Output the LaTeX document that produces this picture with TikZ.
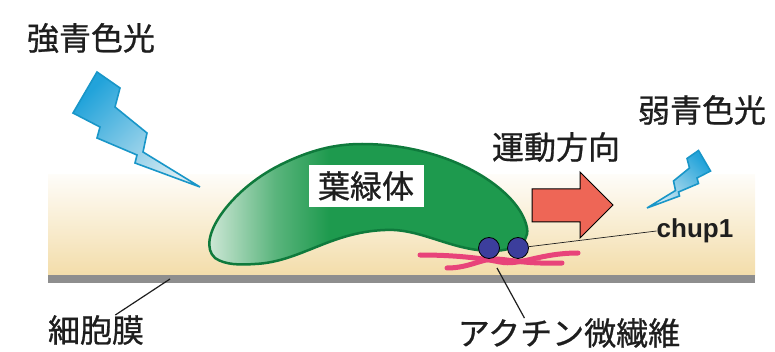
\documentclass[tikz,border=0pt]{standalone}
\usepackage{fontspec}
\newfontfamily\jpfont{Noto Sans CJK JP}[FakeBold=0.8]
\setsansfont{Liberation Sans}
\usetikzlibrary{positioning, calc}

\definecolor{ink}{HTML}{1E1E1E}
\definecolor{chlgreen}{HTML}{1E9A4E}
\definecolor{chledge}{HTML}{0F7A3C}
\definecolor{chllight}{HTML}{E6F2E9}
\definecolor{cyto}{HTML}{F3DDAA}
\definecolor{membrane}{HTML}{8E8E8E}
\definecolor{boltblue}{HTML}{22A3DA}
\definecolor{boltedge}{HTML}{1996C8}
\definecolor{boltlight}{HTML}{D6EAF2}
\definecolor{motion}{HTML}{EE6656}
\definecolor{actin}{HTML}{E8437A}
\definecolor{chupblue}{HTML}{3C3E9C}

% chloroplast: pale at the left end, full green from about a third on
\pgfdeclarehorizontalshading{chloro}{100bp}{color(0bp)=(chllight); color(25bp)=(chllight); color(37bp)=(chlgreen!70!chllight); color(45bp)=(chlgreen); color(100bp)=(chlgreen)}

\begin{document}
\begin{tikzpicture}[
    x=1pt, y=-1pt,
    lbl/.style={font=\jpfont\fontsize{32}{36}\selectfont, text=ink, inner sep=0pt},
    leader/.style={draw=ink, line width=1.2pt},
    motor/.style={circle, draw=black, fill=chupblue, line width=0.8pt, minimum size=21pt, inner sep=0pt},
    filament/.style={draw=actin, line width=5pt, line cap=round},
    bolt/.pic={
        \draw[line width=1.6pt, draw=boltedge, top color=boltblue, bottom color=boltlight, shading angle=#1]
            (-103,-115) -- (-80,-99) -- (-85,-80) -- (-53,-54) -- (-57,-35) -- (0,0)
            -- (-65,-24) -- (-63,-32) -- (-103,-49) -- (-100,-60) -- (-127,-74) -- cycle;
    }
]
    \useasboundingbox (0,0) rectangle (775,352);

    % === Cytoplasm and membrane ===
    \fill[top color=cyto!8, bottom color=cyto] (48,175) rectangle (755,275);
    \fill[membrane] (48,275) rectangle (755,283);

    % === Light ===
    \pic at (200,187) {bolt=45};
    \pic[xscale=-0.5, yscale=0.5] at (647,208) {bolt=-45};

    \node[lbl] (strong) at (91,38) {強青色光};
    \node[lbl] (weak) at (702,110) {弱青色光};

    % === Chloroplast ===
    \path[draw=chledge, line width=2.5pt, shade, shading=chloro]
        (215,258) .. controls (195,240) and (230,190) .. (280,165)
        .. controls (310,150) and (335,144) .. (362,144)
        .. controls (450,144) and (520,190) .. (527,228)
        .. controls (530,245) and (510,251) .. (490,251)
        .. controls (450,250) and (420,228) .. (385,230)
        .. controls (330,232) and (300,262) .. (255,264)
        .. controls (240,265) and (225,265) .. (215,258) -- cycle;
    \node[lbl, fill=white, minimum width=115pt, minimum height=42pt] (chloro) at (366,186) {葉緑体};

    % === Movement ===
    \draw[fill=motion, line width=1pt] (532,189) -- (580,189) -- (580,172) -- (613,205)
        -- (580,238) -- (580,222) -- (532,222) -- cycle;
    \node[lbl] (dir) at (556,147) {運動方向};

    % === Actin filaments and chup1 ===
    \draw[filament] (420,255) .. controls (455,255) and (480,258) .. (500,262)
        .. controls (520,266) and (540,253) .. (578,253);
    \draw[filament] (447,268) .. controls (470,268) and (482,258) .. (497,259)
        .. controls (512,260) and (525,264) .. (562,263);
    \coordinate (cross) at (497,268);

    \node[motor] (m1) at (489,248) {};
    \node[motor] (m2) at (518,248) {};
    \node[font=\sffamily\bfseries\fontsize{26}{28}\selectfont, text=ink, inner sep=0pt] (chup) at (695,231) {chup1};
    \draw[draw=ink, line width=0.7pt] (m2) -- (chup.west);

    % === Bottom labels ===
    \coordinate (pm) at (170,279);
    \node[lbl] (pmlabel) at (96,330) {細胞膜};
    \node[lbl] (actlabel) at (569,333) {アクチン微繊維};
    \draw[leader] (pm) -- ($(pmlabel.north)!0.4!(pmlabel.north east)$);
    \draw[leader] (cross) -- ($(actlabel.north)!0.4!(actlabel.north west)$);

\end{tikzpicture}
\end{document}
